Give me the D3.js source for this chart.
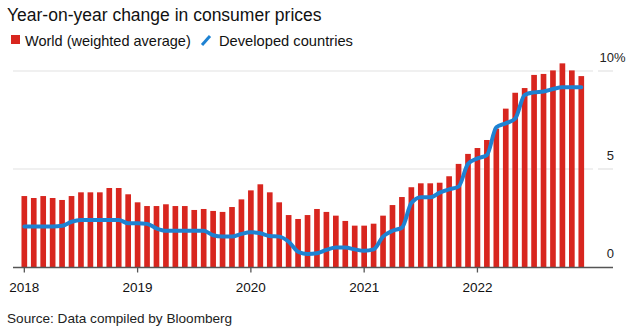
<!DOCTYPE html>
<html>
<head>
<meta charset="utf-8">
<script src="https://cdn.jsdelivr.net/npm/d3@7"></script>
<style>
  html, body { margin: 0; padding: 0; background: #fff; }
  svg { display: block; font-family: "Liberation Sans", Arial, Helvetica, sans-serif; }
</style>
</head>
<body>
<svg id="chart" width="632" height="335"></svg>
<script>
// Monthly series, Jan 2018 – Dec 2022 (percent, year-on-year)
const months = d3.range(60).map(i => new Date(2018, i, 1));
const worldValues = [
  3.62, 3.52, 3.62, 3.52, 3.42, 3.62, 3.81, 3.81, 3.81, 4.03, 4.03, 3.71,
  3.30, 3.11, 3.11, 3.20, 3.11, 3.11, 2.91, 2.96, 2.86, 2.81, 3.06, 3.45,
  3.91, 4.22, 3.81, 3.30, 2.65, 2.45, 2.65, 2.96, 2.81, 2.62, 2.35, 2.11,
  2.11, 2.21, 2.62, 3.16, 3.57, 4.07, 4.27, 4.27, 4.30, 4.63, 5.26, 5.77,
  6.07, 6.48, 7.06, 8.08, 8.89, 9.13, 9.80, 9.85, 10.03, 10.39, 10.03, 9.74
];
const developedValues = [
  2.06, 2.06, 2.06, 2.06, 2.10, 2.31, 2.40, 2.40, 2.40, 2.40, 2.40, 2.23,
  2.23, 2.20, 1.97, 1.85, 1.85, 1.85, 1.85, 1.85, 1.62, 1.55, 1.55, 1.69,
  1.77, 1.72, 1.58, 1.55, 1.29, 0.78, 0.66, 0.70, 0.87, 0.99, 0.99, 0.90,
  0.83, 0.90, 1.55, 1.85, 2.00, 3.26, 3.56, 3.56, 3.79, 3.96, 4.10, 5.26,
  5.54, 5.71, 7.13, 7.33, 7.57, 8.78, 8.91, 8.95, 9.08, 9.17, 9.17, 9.17
];
const yTicks = [0, 5, 10];
const yTickLabels = ["0", "5", "10"];
const yearTicks = [2018, 2019, 2020, 2021, 2022];

const RED = "#d8261f";
const BLUE = "#1e82d2";

const svg = d3.select("#chart");

// Layout
const plotLeft = 13, plotRight = 613, gridEnd = 593;
const bandStart = 19.6, step = 9.44;

const x = d3.scaleBand()
  .domain(d3.range(months.length))
  .range([bandStart, bandStart + step * months.length])
  .paddingInner(0.4)
  .paddingOuter(0.2);

const y = d3.scaleLinear().domain([0, 10]).range([267, 71]);
const xc = i => x(i) + x.bandwidth() / 2;

// Title
svg.append("text")
  .attr("x", 7).attr("y", 21)
  .attr("font-size", 17.5)
  .attr("fill", "#111")
  .text("Year-on-year change in consumer prices");

// Legend
const legend = svg.append("g");
legend.append("rect").attr("x", 11).attr("y", 35).attr("width", 9).attr("height", 9).attr("fill", RED);
legend.append("text").attr("x", 25).attr("y", 45.5).attr("font-size", 14.5).attr("fill", "#111")
  .text("World (weighted average)");
legend.append("line").attr("x1", 202).attr("y1", 45).attr("x2", 210).attr("y2", 36)
  .attr("stroke", BLUE).attr("stroke-width", 3);
legend.append("text").attr("x", 219).attr("y", 45.5).attr("font-size", 14.7).attr("fill", "#111")
  .text("Developed countries");

// Gridlines
const grid = svg.append("g");
yTicks.filter(t => t > 0).forEach(t => {
  grid.append("line").attr("x1", plotLeft).attr("x2", gridEnd)
    .attr("y1", y(t)).attr("y2", y(t)).attr("stroke", "#e2e2e2").attr("stroke-width", 1.2);
  grid.append("line").attr("x1", gridEnd + 5).attr("x2", plotRight)
    .attr("y1", y(t)).attr("y2", y(t)).attr("stroke", "#e2e2e2").attr("stroke-width", 1.2);
});

// Y labels (right side, numbers right-aligned, % hanging)
const yl = svg.append("g").attr("font-size", 13).attr("fill", "#222");
yTicks.forEach((t, i) => {
  yl.append("text").attr("x", 614).attr("y", y(t) - 9).attr("text-anchor", "end").text(yTickLabels[i]);
  if (t === 10) yl.append("text").attr("x", 614).attr("y", y(t) - 9).text("%");
});

// Bars
svg.append("g").selectAll("rect")
  .data(worldValues)
  .join("rect")
  .attr("x", (d, i) => x(i))
  .attr("width", x.bandwidth())
  .attr("y", d => y(d))
  .attr("height", d => y(0) - y(d))
  .attr("fill", RED);

// Developed countries line
const line = d3.line()
  .x((d, i) => xc(i))
  .y(d => y(d))
  .curve(d3.curveMonotoneX);

svg.append("path")
  .datum(developedValues)
  .attr("d", line)
  .attr("fill", "none")
  .attr("stroke", BLUE)
  .attr("stroke-width", 4)
  .attr("stroke-linejoin", "round")
  .attr("stroke-linecap", "round");

// X axis
svg.append("line").attr("x1", plotLeft).attr("x2", plotRight)
  .attr("y1", y(0) + 0.5).attr("y2", y(0) + 0.5).attr("stroke", "#555").attr("stroke-width", 1.3);

const xa = svg.append("g");
yearTicks.forEach(yr => {
  const i = (yr - 2018) * 12;
  const px = xc(i);
  xa.append("line").attr("x1", px).attr("x2", px).attr("y1", y(0)).attr("y2", y(0) + 5.5)
    .attr("stroke", "#555").attr("stroke-width", 1.3);
  xa.append("text").attr("x", px).attr("y", 292).attr("text-anchor", "middle")
    .attr("font-size", 13.5).attr("fill", "#111").text(yr);
});

// Source
svg.append("text").attr("x", 7).attr("y", 323).attr("font-size", 13.6).attr("fill", "#222")
  .text("Source: Data compiled by Bloomberg");
</script>
</body>
</html>
